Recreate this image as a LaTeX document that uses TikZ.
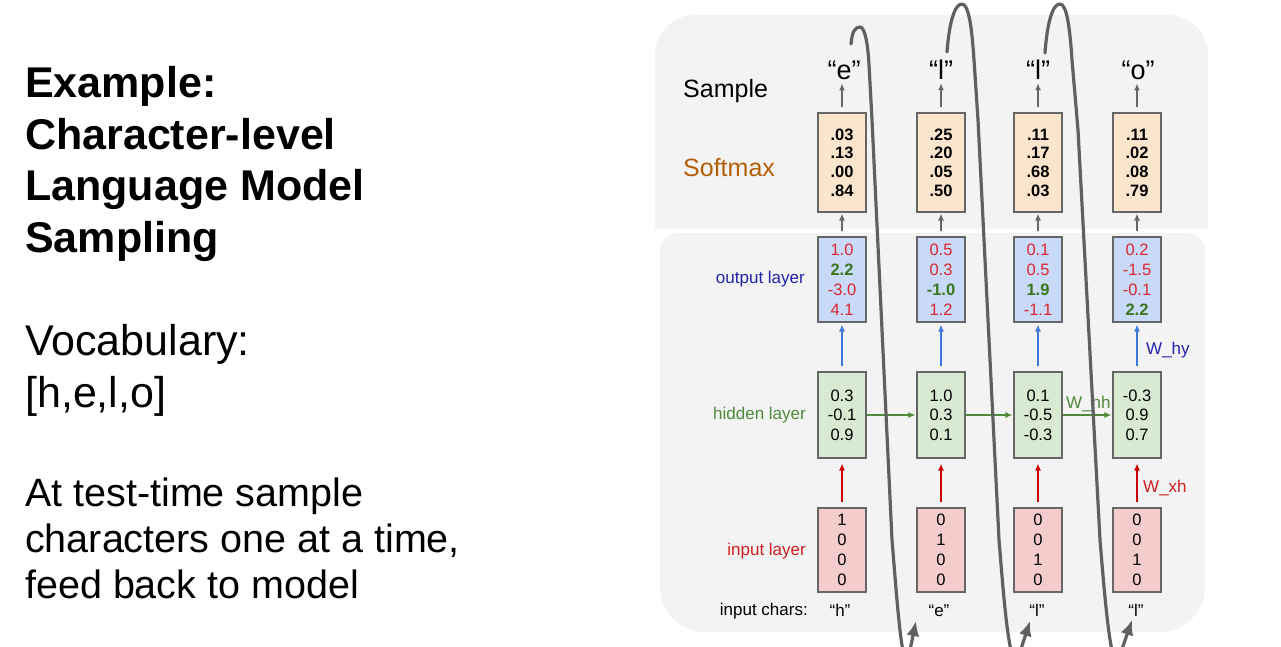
\documentclass[tikz,border=0pt]{standalone}
\usepackage{fontspec}
\setmainfont{Liberation Sans}
\usetikzlibrary{arrows.meta}
\definecolor{bgg}{HTML}{F3F3F3}
\definecolor{smfill}{HTML}{FCE5CD}
\definecolor{outfill}{HTML}{C9DAF8}
\definecolor{hidfill}{HTML}{D9EAD3}
\definecolor{infill}{HTML}{F4CCCC}
\definecolor{boxline}{HTML}{666666}
\definecolor{numred}{HTML}{D9262E}
\definecolor{numgreen}{HTML}{38761D}
\definecolor{lblblue}{HTML}{2222AA}
\definecolor{lblgreen}{HTML}{4F8A3A}
\definecolor{lblred}{HTML}{CC1F1F}
\definecolor{lblorange}{HTML}{B45F06}
\definecolor{arrblue}{HTML}{3C78D8}
\definecolor{arrred}{HTML}{CC0000}
\definecolor{loopgray}{HTML}{606060}
\begin{document}
\begin{tikzpicture}[x=1pt,y=1pt,
  vbox/.style={draw=boxline, line width=1.1pt, minimum width=48pt, inner sep=0pt, align=center, font=\fontsize{16.5}{20}\selectfont},
  smbox/.style={vbox, fill=smfill, minimum height=99pt, font=\fontsize{16.5}{18.7}\selectfont\bfseries},
  outbox/.style={vbox, fill=outfill, minimum height=85pt},
  hidbox/.style={vbox, fill=hidfill, minimum height=86pt, font=\fontsize{16.5}{19.5}\selectfont},
  inbox/.style={vbox, fill=infill, minimum height=84pt},
  lbl/.style={font=\fontsize{17}{20}\selectfont, inner sep=0pt},
  bigtxt/.style={font=\fontsize{25}{30}\selectfont, inner sep=0pt},
  samptxt/.style={font=\fontsize{27}{30}\selectfont, inner sep=0pt, anchor=base},
  chartxt/.style={font=\fontsize{17}{20}\selectfont, inner sep=0pt, anchor=base},
  titletxt/.style={font=\fontsize{43}{52}\selectfont\bfseries, inner sep=0pt, anchor=base west},
  bodytxt/.style={font=\fontsize{43}{52}\selectfont, inner sep=0pt, anchor=base west},
  smalltxt/.style={font=\fontsize{39.5}{46}\selectfont, inner sep=0pt, anchor=base west},
  grayarr/.style={draw=boxline, line width=1.3pt, -{Latex[length=7pt,width=6pt]}},
  bluearr/.style={draw=arrblue, line width=1.3pt, -{Latex[length=7pt,width=6pt]}},
  redarr/.style={draw=arrred, line width=1.3pt, -{Latex[length=7pt,width=6pt]}},
  greenarr/.style={draw=lblgreen, line width=1.3pt, -{Latex[length=7pt,width=6pt]}},
  loopline/.style={draw=loopgray, line width=3.2pt, line cap=round, line join=round, -{Latex[length=15pt,width=13pt]}}
]
\useasboundingbox (0,0) rectangle (1281,-646);
\fill[white] (0,0) rectangle (1281,-646);

% background panels
\fill[bgg, rounded corners=40pt] (655,-229) -- (655,-15) -- (1208,-15) -- (1208,-229);
\fill[bgg] (660,-430) [rounded corners=18pt] -- (660,-233) -- (1205,-233) -- (1205,-430) [rounded corners=45pt] -- (1205,-632) -- (660,-632) -- cycle;

% left text
\node[titletxt] (t1) at (25,-97) {Example:};
\node[titletxt] (t2) at (25,-149) {Character-level};
\node[titletxt] (t3) at (25,-200) {Language Model};
\node[titletxt] (t4) at (25,-252) {Sampling};
\node[bodytxt] (t5) at (25,-355) {Vocabulary:};
\node[bodytxt] (t6) at (25,-407) {[h,e,l,o]};
\node[smalltxt] (t7) at (25,-506) {At test-time sample};
\node[smalltxt] (t8) at (25,-552) {characters one at a time,};
\node[smalltxt] (t9) at (25,-598) {feed back to model};

% row labels
\node[bigtxt, anchor=base west] (lsample) at (683,-97) {Sample};
\node[bigtxt, anchor=base west, text=lblorange] (lsoft) at (683,-176) {Softmax};
\node[lbl, anchor=base east, text=lblblue] (lout) at (805,-283) {output layer};
\node[lbl, anchor=base east, text=lblgreen] (lhid) at (806,-419) {hidden layer};
\node[lbl, anchor=base east, text=lblred] (lin) at (806,-555) {input layer};
\node[lbl, anchor=base east] (lchars) at (808,-615) {input chars:};

% softmax boxes
\node[smbox] (s1) at (842,-162.5) {.03\\.13\\.00\\.84};
\node[smbox] (s2) at (941,-162.5) {.25\\.20\\.05\\.50};
\node[smbox] (s3) at (1038,-162.5) {.11\\.17\\.68\\.03};
\node[smbox] (s4) at (1137,-162.5) {.11\\.02\\.08\\.79};

% output boxes
\node[outbox] (o1) at (842,-279.5) {\textcolor{numred}{1.0}\\\textcolor{numgreen}{\bfseries 2.2}\\\textcolor{numred}{-3.0}\\\textcolor{numred}{4.1}};
\node[outbox] (o2) at (941,-279.5) {\textcolor{numred}{0.5}\\\textcolor{numred}{0.3}\\\textcolor{numgreen}{\bfseries -1.0}\\\textcolor{numred}{1.2}};
\node[outbox] (o3) at (1038,-279.5) {\textcolor{numred}{0.1}\\\textcolor{numred}{0.5}\\\textcolor{numgreen}{\bfseries 1.9}\\\textcolor{numred}{-1.1}};
\node[outbox] (o4) at (1137,-279.5) {\textcolor{numred}{0.2}\\\textcolor{numred}{-1.5}\\\textcolor{numred}{-0.1}\\\textcolor{numgreen}{\bfseries 2.2}};

% hidden boxes
\node[hidbox] (h1) at (842,-415) {0.3\\-0.1\\0.9};
\node[hidbox] (h2) at (941,-415) {1.0\\0.3\\0.1};
\node[hidbox] (h3) at (1038,-415) {0.1\\-0.5\\-0.3};
\node[hidbox] (h4) at (1137,-415) {-0.3\\0.9\\0.7};

% input boxes
\node[inbox] (i1) at (842,-550) {1\\0\\0\\0};
\node[inbox] (i2) at (941,-550) {0\\1\\0\\0};
\node[inbox] (i3) at (1038,-550) {0\\0\\1\\0};
\node[inbox] (i4) at (1137,-550) {0\\0\\1\\0};

% sampled chars
\node[samptxt] (a1) at (844,-79) {“e”};
\node[samptxt] (a2) at (941,-79) {“l”};
\node[samptxt] (a3) at (1038,-79) {“l”};
\node[samptxt] (a4) at (1138,-79) {“o”};

% input chars
\node[chartxt] (c1) at (840,-616) {“h”};
\node[chartxt] (c2) at (939,-616) {“e”};
\node[chartxt] (c3) at (1037,-616) {“l”};
\node[chartxt] (c4) at (1136,-616) {“l”};

% weight labels
\node[lbl, anchor=base west, text=lblgreen] (whh) at (1066,-408) {W\_hh};
\node[lbl, anchor=base west, text=lblblue] (why) at (1146,-354) {W\_hy};
\node[lbl, anchor=base west, text=lblred] (wxh) at (1143,-492) {W\_xh};

% arrows
\foreach \k in {1,2,3,4}{
  \draw[grayarr, shorten <=5pt, shorten >=4pt] (s\k.north) -- (s\k.north |- a\k.south);
  \draw[grayarr, shorten <=5pt, shorten >=1pt] (o\k.north) -- (s\k.south);
  \draw[bluearr, shorten <=5pt, shorten >=2pt] (h\k.north) -- (o\k.south);
  \draw[redarr, shorten <=5pt, shorten >=5pt] (i\k.north) -- (h\k.south);
}
\draw[greenarr, shorten >=1pt] (h1.east) -- (h2.west);
\draw[greenarr, shorten >=1pt] (h2.east) -- (h3.west);
\draw[greenarr, shorten >=1pt] (h3.east) -- (h4.west);

% feedback loops
\begin{scope}
\clip (0,0) rectangle (1281,-646);
\coordinate (L1s) at (851,-44);
\coordinate (L1e) at (916,-621);
\coordinate (L2s) at (947,-52);
\coordinate (L2e) at (1030,-621);
\coordinate (L3s) at (1045,-53);
\coordinate (L3e) at (1132,-620);
\draw[loopline] (L1s) .. controls (852,-32) and (855,-27) .. (860,-27) .. controls (865,-27) and (868,-45) .. (869,-65) -- (872,-120) -- (892,-540) .. controls (897,-600) and (903,-690) .. (910,-650) -- (L1e);
\draw[loopline] (L2s) .. controls (949,-25) and (954,-4) .. (962,-4) .. controls (969,-4) and (972,-30) .. (974,-60) -- (978,-120) -- (999,-540) .. controls (1004,-600) and (1010,-685) .. (1020,-652) -- (L2e);
\draw[loopline] (L3s) .. controls (1047,-25) and (1052,-4) .. (1060,-4) .. controls (1067,-4) and (1070,-30) .. (1072,-60) -- (1078,-130) -- (1100,-540) .. controls (1105,-600) and (1112,-690) .. (1121,-652) -- (L3e);
\end{scope}
\end{tikzpicture}
\end{document}
